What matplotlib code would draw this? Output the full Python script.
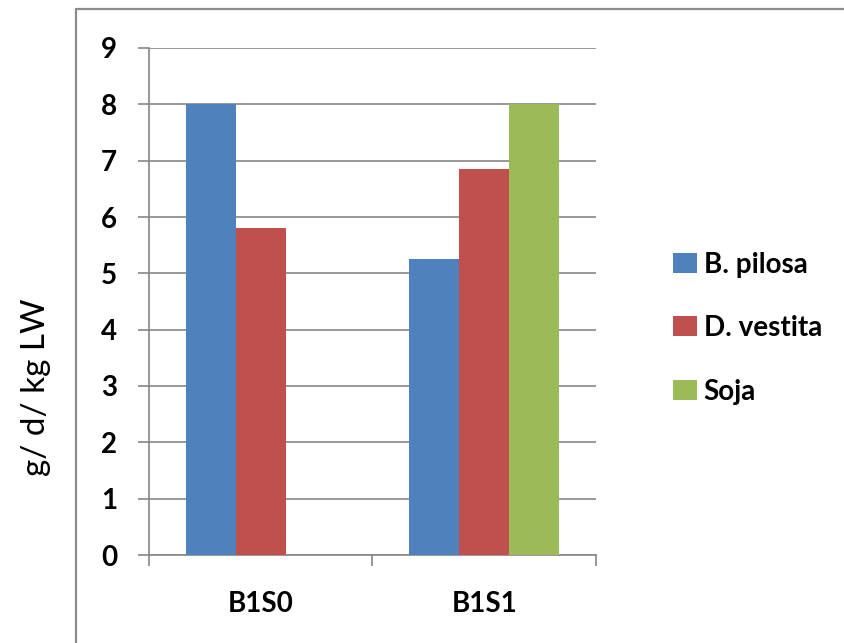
import matplotlib.pyplot as plt
import numpy as np
from matplotlib.patches import Rectangle

categories = ["B1S0", "B1S1"]
series_names = ["B. pilosa", "D. vestita", "Soja"]
b_pilosa = [8.0, 5.25]
d_vestita = [5.8, 6.85]
soja = [0.0, 8.0]
colors = ["#4F81BD", "#C0504D", "#9BBB59"]

fig = plt.figure(figsize=(8.45, 6.43), dpi=100)

# outer chart border (runs off the right/bottom edge like the reference)
fig.patches.append(Rectangle((76 / 845, -0.05), 1.0, 1 - 9 / 643 + 0.05,
                             transform=fig.transFigure, fill=False,
                             edgecolor="#8c8c8c", linewidth=1.6))

ax = fig.add_axes([149 / 845, 88 / 643, (596 - 149) / 845, (555 - 48) / 643])

x = np.arange(len(categories))
w = 0.224
for i, (vals, name) in enumerate(zip([b_pilosa, d_vestita, soja], series_names)):
    ax.bar(x + (i - 1) * w, vals, width=w, color=colors[i], label=name, zorder=3)

ax.set_ylim(0, 9)
ax.set_xlim(-0.5, 1.5)
ax.set_yticks(range(0, 10))
ax.yaxis.grid(True, color="#868686", linewidth=1.2, zorder=0)

# category ticks sit at the boundaries, labels centred
ax.set_xticks([-0.5, 0.5, 1.5])
ax.set_xticklabels([])
ax.set_xticks(x, minor=True)
ax.set_xticklabels(categories, minor=True)
ax.tick_params(axis="x", which="minor", length=0, pad=26)
ax.tick_params(axis="x", which="major", length=8, width=1.2, color="#868686", direction="out")
ax.tick_params(axis="y", length=8, width=1.2, color="#868686", direction="out", pad=15)

for s in ["top", "right"]:
    ax.spines[s].set_visible(False)
for s in ["left", "bottom"]:
    ax.spines[s].set_color("#868686")
    ax.spines[s].set_linewidth(1.2)

for lab in ax.get_yticklabels() + ax.get_xticklabels(minor=True):
    lab.set_fontfamily("Lato")
    lab.set_fontweight("bold")
    lab.set_fontsize(20)

fig.text(36 / 845, 1 - 387 / 643, "g/ d/ kg LW", rotation=90, ha="center", va="center",
         fontsize=24, family="Lato")

leg = ax.legend(loc="center left", bbox_to_anchor=(648 / 845, 1 - 328 / 643),
                bbox_transform=fig.transFigure, frameon=False,
                handlelength=0.85, handleheight=0.75, handletextpad=0.25,
                labelspacing=1.35, prop={"family": "Lato", "weight": "bold", "size": 20})

plt.savefig("out.png", dpi=100)
